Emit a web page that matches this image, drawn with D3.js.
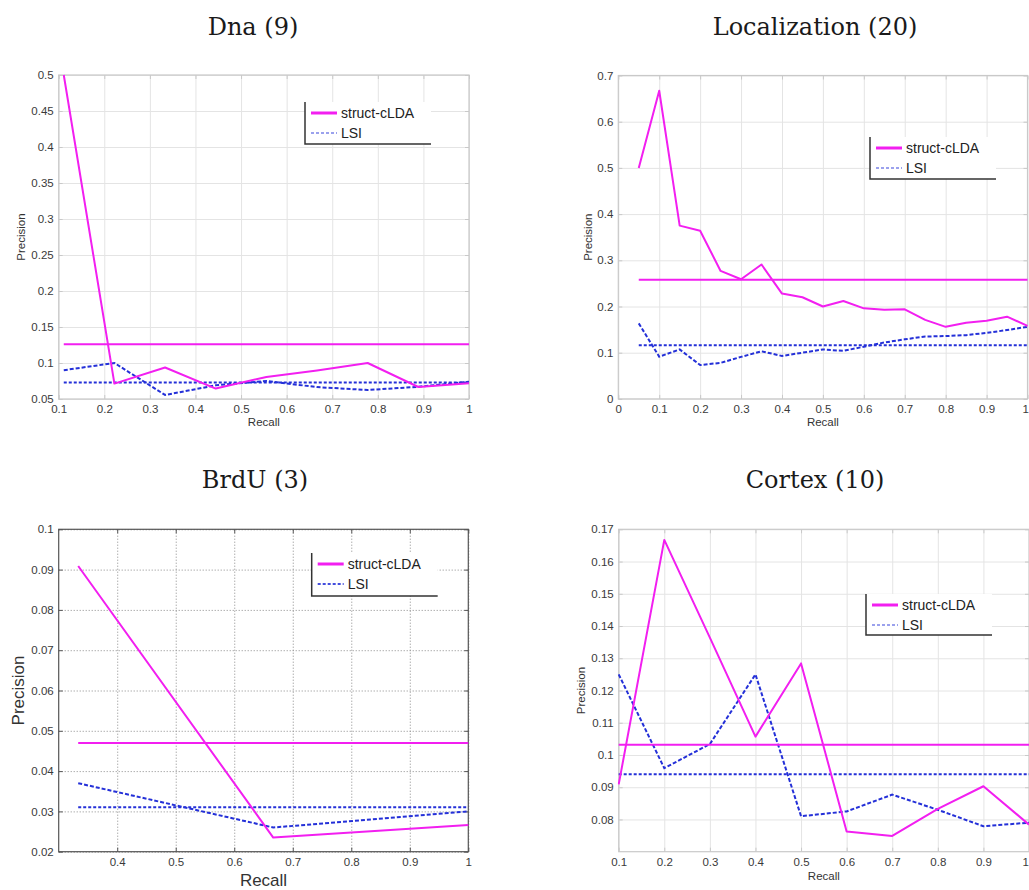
<!DOCTYPE html>
<html>
<head>
<meta charset="utf-8">
<script src="https://cdn.jsdelivr.net/npm/d3@7"></script>
<style>
  html, body { margin: 0; padding: 0; background: #fff; }
  svg { display: block; }
</style>
</head>
<body>
<svg id="chart" width="1029" height="890"></svg>
<script>
// ---- Dna (9 relevant documents) ----
const dnaRecall = [1/9, 2/9, 3/9, 4/9, 5/9, 6/9, 7/9, 8/9, 1];
const dnaStruct = [0.5, 0.0714, 0.0938, 0.0645, 0.0806, 0.0896, 0.1, 0.0667, 0.072];
const dnaLsi = [0.090, 0.100, 0.0556, 0.069, 0.075, 0.0665, 0.0625, 0.067, 0.074];
const dnaStructMean = 0.126;
const dnaLsiMean = 0.073;
const dnaXTicks = [0.1, 0.2, 0.3, 0.4, 0.5, 0.6, 0.7, 0.8, 0.9, 1];
const dnaYTicks = [0.05, 0.1, 0.15, 0.2, 0.25, 0.3, 0.35, 0.4, 0.45, 0.5];

// ---- Localization (20 relevant documents) ----
const locRecall = [0.05, 0.10, 0.15, 0.20, 0.25, 0.30, 0.35, 0.40, 0.45, 0.50,
                   0.55, 0.60, 0.65, 0.70, 0.75, 0.80, 0.85, 0.90, 0.95, 1.00];
const locStruct = [0.5, 0.667, 0.375, 0.364, 0.277, 0.259, 0.291, 0.228, 0.220, 0.200,
                   0.212, 0.196, 0.193, 0.194, 0.171, 0.156, 0.165, 0.169, 0.178, 0.158];
const locLsi = [0.1635, 0.0913, 0.107, 0.0733, 0.078, 0.091, 0.103, 0.093, 0.100, 0.107,
                0.104, 0.113, 0.122, 0.129, 0.135, 0.136, 0.138, 0.143, 0.149, 0.156];
const locStructMean = 0.258;
const locLsiMean = 0.116;
const locXTicks = [0, 0.1, 0.2, 0.3, 0.4, 0.5, 0.6, 0.7, 0.8, 0.9, 1];
const locYTicks = [0, 0.1, 0.2, 0.3, 0.4, 0.5, 0.6, 0.7];

// ---- BrdU (3 relevant documents) ----
const brduRecall = [1/3, 2/3, 1];
const brduStruct = [0.0909, 0.0235, 0.0266];
const brduLsi = [0.037, 0.026, 0.030];
const brduStructMean = 0.047;
const brduLsiMean = 0.031;
const brduXTicks = [0.4, 0.5, 0.6, 0.7, 0.8, 0.9, 1];
const brduYTicks = [0.02, 0.03, 0.04, 0.05, 0.06, 0.07, 0.08, 0.09, 0.1];

// ---- Cortex (10 relevant documents) ----
const cortexRecall = [0.1, 0.2, 0.3, 0.4, 0.5, 0.6, 0.7, 0.8, 0.9, 1];
const cortexStruct = [0.0909, 0.1667, 0.1364, 0.1057, 0.1284, 0.0763, 0.0749, 0.0833, 0.0903, 0.0784];
const cortexLsi = [0.125, 0.0959, 0.1034, 0.125, 0.081, 0.0825, 0.0877, 0.083, 0.0779, 0.079];
const cortexStructMean = 0.1032;
const cortexLsiMean = 0.094;
const cortexXTicks = [0.1, 0.2, 0.3, 0.4, 0.5, 0.6, 0.7, 0.8, 0.9, 1];
const cortexYTicks = [0.08, 0.09, 0.1, 0.11, 0.12, 0.13, 0.14, 0.15, 0.16, 0.17];

const seriesNames = ["struct-cLDA", "LSI"];

const MAGENTA = "#f21ff0";
const BLUE = "#2430d8";
const SVG_WIDTH = 1029;

const svg = d3.select("#chart");
const fmt = v => String(+v.toFixed(2));

function drawPanel(cfg) {
  const g = svg.append("g");
  const x = d3.scaleLinear().domain(cfg.xDomain).range([cfg.left, cfg.right]);
  const y = d3.scaleLinear().domain(cfg.yDomain).range([cfg.bottom, cfg.top]);
  const w = cfg.right - cfg.left, h = cfg.bottom - cfg.top;
  const frame = cfg.dark ? "#555" : "#c9c9c9";

  // title
  svg.append("text")
    .attr("x", cfg.titleX).attr("y", cfg.titleY)
    .attr("text-anchor", "middle")
    .attr("font-family", "DejaVu Serif, serif")
    .attr("font-size", 24)
    .attr("fill", "#1a1a1a")
    .text(cfg.title);

  // grid
  const gridStyle = sel => {
    sel.selectAll(".domain").remove();
    sel.selectAll("line")
      .attr("stroke", cfg.dark ? "#8a8a8a" : "#e4e4e4")
      .attr("stroke-width", 1)
      .attr("stroke-dasharray", cfg.dark ? "1,2" : null);
    sel.selectAll("text").remove();
  };
  g.append("g").attr("transform", `translate(0,${cfg.bottom})`)
    .call(d3.axisBottom(x).tickValues(cfg.xTicks).tickSize(-h)).call(gridStyle);
  g.append("g").attr("transform", `translate(${cfg.left},0)`)
    .call(d3.axisLeft(y).tickValues(cfg.yTicks).tickSize(-w)).call(gridStyle);

  // frame
  g.append("rect")
    .attr("x", cfg.left).attr("y", cfg.top).attr("width", w).attr("height", h)
    .attr("fill", "none").attr("stroke", frame).attr("stroke-width", 1.2);

  // tick marks and labels
  const tickStyle = (sel, size) => {
    sel.selectAll(".domain").remove();
    sel.selectAll("line").attr("stroke", frame);
    sel.selectAll("text")
      .attr("font-family", "Liberation Sans, Arial, sans-serif")
      .attr("font-size", size)
      .attr("fill", "#3a3a3a");
  };
  const xAxisG = g.append("g").attr("transform", `translate(0,${cfg.bottom})`)
    .call(d3.axisBottom(x).tickValues(cfg.xTicks).tickFormat(fmt).tickSize(-4).tickPadding(6))
    .call(s => tickStyle(s, cfg.tickFont));
  // keep the last label inside the page when the axis ends at the page edge
  if (cfg.right > SVG_WIDTH - 6) {
    xAxisG.selectAll(".tick text")
      .filter(d => d === cfg.xDomain[1])
      .attr("text-anchor", "end").attr("dx", SVG_WIDTH - cfg.right - 0.5);
  }
  g.append("g").attr("transform", `translate(${cfg.left},0)`)
    .call(d3.axisLeft(y).tickValues(cfg.yTicks).tickFormat(fmt).tickSize(-4).tickPadding(5))
    .call(s => tickStyle(s, cfg.tickFont));
  g.append("g").attr("transform", `translate(0,${cfg.top})`)
    .call(d3.axisTop(x).tickValues(cfg.xTicks).tickFormat("").tickSize(-4))
    .call(s => tickStyle(s, cfg.tickFont));
  g.append("g").attr("transform", `translate(${cfg.right},0)`)
    .call(d3.axisRight(y).tickValues(cfg.yTicks).tickFormat("").tickSize(-4))
    .call(s => tickStyle(s, cfg.tickFont));

  // axis titles
  g.append("text")
    .attr("x", (cfg.left + cfg.right) / 2).attr("y", cfg.recallY)
    .attr("text-anchor", "middle")
    .attr("font-family", "Liberation Sans, Arial, sans-serif")
    .attr("font-size", cfg.labelFont).attr("fill", "#333")
    .text("Recall");
  g.append("text")
    .attr("transform", `translate(${cfg.precisionX},${(cfg.top + cfg.bottom) / 2}) rotate(-90)`)
    .attr("text-anchor", "middle")
    .attr("font-family", "Liberation Sans, Arial, sans-serif")
    .attr("font-size", cfg.labelFont).attr("fill", "#333")
    .text("Precision");

  // curves
  const clip = "clip-" + cfg.id;
  g.append("clipPath").attr("id", clip).append("rect")
    .attr("x", cfg.left - 1).attr("y", cfg.top - 1).attr("width", w + 2).attr("height", h + 2);
  const plot = g.append("g").attr("clip-path", `url(#${clip})`);
  const line = d3.line().x(d => x(d[0])).y(d => y(d[1]));
  const xs = cfg.recall;
  const x0 = xs[0], x1 = xs[xs.length - 1];

  plot.append("path")
    .datum([[x0, cfg.lsiMean], [x1, cfg.lsiMean]])
    .attr("d", line).attr("fill", "none")
    .attr("stroke", BLUE).attr("stroke-width", 2).attr("stroke-dasharray", "3,2");
  plot.append("path")
    .datum(xs.map((r, i) => [r, cfg.lsi[i]]))
    .attr("d", line).attr("fill", "none")
    .attr("stroke", BLUE).attr("stroke-width", 2).attr("stroke-dasharray", "4,2");
  plot.append("path")
    .datum([[x0, cfg.structMean], [x1, cfg.structMean]])
    .attr("d", line).attr("fill", "none")
    .attr("stroke", MAGENTA).attr("stroke-width", 2);
  plot.append("path")
    .datum(xs.map((r, i) => [r, cfg.struct[i]]))
    .attr("d", line).attr("fill", "none")
    .attr("stroke", MAGENTA).attr("stroke-width", 2).attr("stroke-linejoin", "round");

  // legend
  const L = cfg.legend;
  const lg = g.append("g");
  lg.append("rect")
    .attr("x", L.x).attr("y", L.y).attr("width", L.w).attr("height", L.h)
    .attr("fill", "#fff");
  lg.append("path")
    .attr("d", `M${L.x},${L.y} V${L.y + L.h} H${L.x + L.w}`)
    .attr("fill", "none").attr("stroke", "#333").attr("stroke-width", 1.5);
  const rows = [
    { name: seriesNames[0], color: MAGENTA, dash: null, width: 3, opacity: 1 },
    { name: seriesNames[1], color: BLUE, dash: "3,2", width: 2, opacity: cfg.dark ? 0.85 : 0.45 }
  ];
  rows.forEach((r, i) => {
    const yy = L.y + 11 + i * 20;
    lg.append("line")
      .attr("x1", L.x + 6).attr("x2", L.x + 32).attr("y1", yy).attr("y2", yy)
      .attr("stroke", r.color).attr("stroke-width", r.width)
      .attr("stroke-dasharray", r.dash).attr("opacity", r.opacity);
    lg.append("text")
      .attr("x", L.x + 36).attr("y", yy + 5)
      .attr("font-family", "Liberation Sans, Arial, sans-serif")
      .attr("font-size", 14).attr("fill", "#222")
      .text(r.name);
  });
}

drawPanel({
  id: "dna", title: "Dna (9)", titleX: 253, titleY: 35,
  left: 58.7, right: 469, top: 75, bottom: 399,
  xDomain: [0.1, 1], yDomain: [0.05, 0.5], xTicks: dnaXTicks, yTicks: dnaYTicks,
  recall: dnaRecall, struct: dnaStruct, lsi: dnaLsi,
  structMean: dnaStructMean, lsiMean: dnaLsiMean,
  tickFont: 11.5, labelFont: 11.5, recallY: 426, precisionX: 25,
  legend: { x: 305, y: 102, w: 126, h: 42 }
});

drawPanel({
  id: "loc", title: "Localization (20)", titleX: 815, titleY: 35,
  left: 618.3, right: 1027.5, top: 75.5, bottom: 398.9,
  xDomain: [0, 1], yDomain: [0, 0.7], xTicks: locXTicks, yTicks: locYTicks,
  recall: locRecall, struct: locStruct, lsi: locLsi,
  structMean: locStructMean, lsiMean: locLsiMean,
  tickFont: 11.5, labelFont: 11.5, recallY: 426, precisionX: 592,
  legend: { x: 870, y: 137, w: 126, h: 42 }
});

drawPanel({
  id: "brdu", title: "BrdU (3)", titleX: 255, titleY: 488, dark: true,
  left: 58.7, right: 468.3, top: 529.3, bottom: 851.7,
  xDomain: [0.3, 1], yDomain: [0.02, 0.1], xTicks: brduXTicks, yTicks: brduYTicks,
  recall: brduRecall, struct: brduStruct, lsi: brduLsi,
  structMean: brduStructMean, lsiMean: brduLsiMean,
  tickFont: 11.5, labelFont: 17, recallY: 886, precisionX: 24,
  legend: { x: 311.7, y: 553, w: 126, h: 43 }
});

drawPanel({
  id: "cortex", title: "Cortex (10)", titleX: 815, titleY: 488,
  left: 618.7, right: 1029, top: 529.3, bottom: 851.7,
  xDomain: [0.1, 1], yDomain: [0.07, 0.17], xTicks: cortexXTicks, yTicks: cortexYTicks,
  recall: cortexRecall, struct: cortexStruct, lsi: cortexLsi,
  structMean: cortexStructMean, lsiMean: cortexLsiMean,
  tickFont: 11.5, labelFont: 11.5, recallY: 880, precisionX: 585,
  legend: { x: 866, y: 594, w: 126, h: 41 }
});
</script>
</body>
</html>
